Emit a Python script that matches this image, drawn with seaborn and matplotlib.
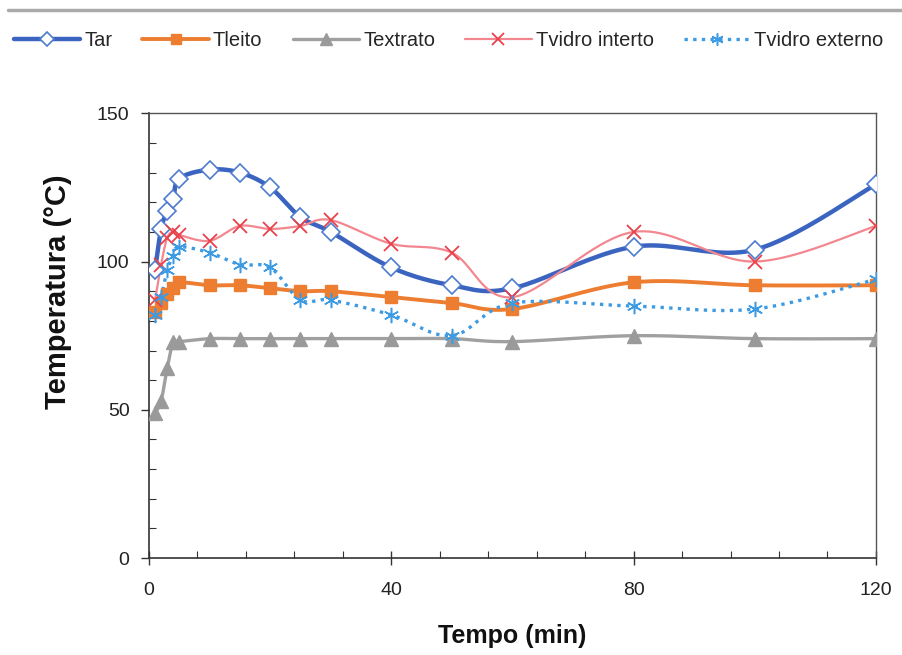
import numpy as np
import pandas as pd
import matplotlib
matplotlib.use("Agg")
import matplotlib.pyplot as plt
from matplotlib.lines import Line2D
from matplotlib.ticker import MultipleLocator
import seaborn as sns

# ---- data ----
tempo = [1, 2, 3, 4, 5, 10, 15, 20, 25, 30, 40, 50, 60, 80, 100, 120]
tar = [97, 111, 117, 121, 128, 131, 130, 125, 115, 110, 98, 92, 91, 105, 104, 126]
tleito = [83, 86, 89, 91, 93, 92, 92, 91, 90, 90, 88, 86, 84, 93, 92, 92]
textrato = [49, 53, 64, 73, 73, 74, 74, 74, 74, 74, 74, 74, 73, 75, 74, 74]
tvidro_int = [87, 99, 108, 110, 109, 107, 112, 111, 112, 114, 106, 103, 88, 110, 100, 112]
tvidro_ext = [82, 88, 97, 102, 105, 103, 99, 98, 87, 87, 82, 75, 86, 85, 84, 94]

series_names = ["Tar", "Tleito", "Textrato", "Tvidro interto", "Tvidro externo"]
series_values = [tar, tleito, textrato, tvidro_int, tvidro_ext]

styles = {
    "Tar": dict(color="#3B64C0", lw=3.2, ls="-", marker="D", ms=9,
                mfc="white", mec="#4F7BD0", mew=1.2),
    "Tleito": dict(color="#ED7D31", lw=2.8, ls="-", marker="s", ms=8.5,
                   mfc="#ED7D31", mec="#ED7D31", mew=1),
    "Textrato": dict(color="#A0A0A0", lw=2.4, ls="-", marker="^", ms=10.5,
                     mfc="#9A9A9A", mec="#9A9A9A", mew=1),
    "Tvidro interto": dict(color="#F3878F", lw=1.6, ls="-", marker="x", ms=10,
                           mfc="#E8414B", mec="#E8414B", mew=1.3),
    "Tvidro externo": dict(color="#3D9BE3", lw=2.4, ls=(0, (1, 1.6)), marker=(6, 2, 0),
                           ms=11, mfc="#3D9BE3", mec="#3D9BE3", mew=1.1),
}


def smooth(x, y, n=24):
    """Catmull-Rom style smoothing (like Excel 'smoothed line')."""
    x = np.asarray(x, float)
    y = np.asarray(y, float)
    px = np.concatenate([[x[0]], x, [x[-1]]])
    py = np.concatenate([[y[0]], y, [y[-1]]])
    xs, ys = [], []
    for i in range(1, len(px) - 2):
        p0 = np.array([px[i - 1], py[i - 1]])
        p1 = np.array([px[i], py[i]])
        p2 = np.array([px[i + 1], py[i + 1]])
        p3 = np.array([px[i + 2], py[i + 2]])
        c1 = p1 + (p2 - p0) / 6.0
        c2 = p2 - (p3 - p1) / 6.0
        t = np.linspace(0, 1, n)[:, None]
        b = ((1 - t) ** 3) * p1 + 3 * ((1 - t) ** 2) * t * c1 + 3 * (1 - t) * t ** 2 * c2 + t ** 3 * p2
        xs.append(b[:, 0])
        ys.append(b[:, 1])
    return np.concatenate(xs), np.concatenate(ys)


sns.set_theme(style="white")
plt.rcParams["font.family"] = ["Liberation Sans", "DejaVu Sans"]

fig = plt.figure(figsize=(9.03, 6.55), dpi=100)
ax = fig.add_axes([0.165, 0.148, 0.805, 0.679])

for name, vals in zip(series_names, series_values):
    st = styles[name]
    sx, sy = smooth(tempo, vals)
    line_df = pd.DataFrame({"Tempo": sx, "T": sy})
    sns.lineplot(data=line_df, x="Tempo", y="T", ax=ax, color=st["color"],
                 lw=st["lw"], linestyle=st["ls"], sort=False, estimator=None,
                 legend=False, zorder=2)
    pts = pd.DataFrame({"Tempo": tempo, "T": vals})
    ax.plot(pts["Tempo"], pts["T"], linestyle="none", marker=st["marker"],
            ms=st["ms"], mfc=st["mfc"], mec=st["mec"], mew=st["mew"], zorder=3)

ax.set_xlim(0, 120)
ax.set_ylim(0, 150)
ax.xaxis.set_major_locator(MultipleLocator(40))
ax.xaxis.set_minor_locator(MultipleLocator(8))
ax.yaxis.set_major_locator(MultipleLocator(50))
ax.yaxis.set_minor_locator(MultipleLocator(10))

ax.tick_params(axis="x", which="major", direction="inout", length=10, width=1,
               color="#333333", labelsize=14, labelcolor="#222222", pad=12)
ax.tick_params(axis="x", which="minor", direction="in", length=5, width=0.8, color="#333333")
ax.tick_params(axis="y", which="major", direction="out", length=6, width=1,
               color="#333333", labelsize=14, labelcolor="#222222", pad=8)
ax.tick_params(axis="y", which="minor", direction="in", length=5, width=0.8, color="#333333")
ax.xaxis.set_ticks_position("bottom")
ax.yaxis.set_ticks_position("left")

for side in ["left", "bottom"]:
    ax.spines[side].set_color("#333333")
    ax.spines[side].set_linewidth(1.2)
for side in ["top", "right"]:
    ax.spines[side].set_color("#555555")
    ax.spines[side].set_linewidth(1.0)

ax.set_xlabel("Tempo (min)", fontsize=18, fontweight="bold", labelpad=18, color="#111111")
ax.set_ylabel("Temperatura (°C)", fontsize=21, fontweight="bold", color="#111111")
ax.yaxis.set_label_coords(-0.106, 0.598)

# legend
handles = []
for name in series_names:
    st = styles[name]
    handles.append(Line2D([0], [0], color=st["color"], lw=st["lw"], linestyle=st["ls"],
                          marker=st["marker"], ms=st["ms"] * 0.8, mfc=st["mfc"],
                          mec=st["mec"], mew=st["mew"]))
fig.legend(handles, series_names, loc="upper left", bbox_to_anchor=(0.015, 0.952),
           ncol=5, frameon=False, fontsize=14.5, handlelength=3.3, handletextpad=0.2,
           columnspacing=1.5, borderaxespad=0, borderpad=0)

# top grey rule
fig.add_artist(Line2D([0.009, 1.0], [0.984, 0.984], transform=fig.transFigure,
                      color="#AAAAAA", lw=2.5))

fig.savefig("out.png", dpi=100)
